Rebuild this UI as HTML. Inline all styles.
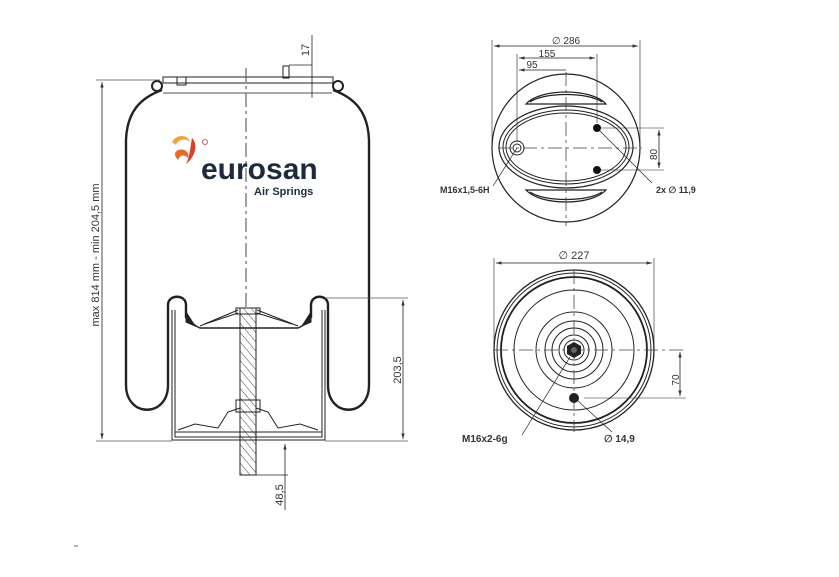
<!DOCTYPE html>
<html><head><meta charset="utf-8"><style>
html,body{margin:0;padding:0;background:#fff;}
svg{display:block;}
text{font-family:"Liberation Sans","DejaVu Sans",sans-serif;fill:#333;}
</style></head><body>
<svg width="839" height="577" viewBox="0 0 839 577" xmlns="http://www.w3.org/2000/svg">
<defs>
<marker id="a" viewBox="0 0 10 10" refX="10" refY="5" markerWidth="7" markerHeight="7" orient="auto-start-reverse"><path d="M0,2 L10,5 L0,8 z" fill="#333"/></marker>
<pattern id="h" width="6" height="6" patternUnits="userSpaceOnUse" patternTransform="rotate(-40)"><line x1="0" y1="0" x2="0" y2="6" stroke="#444" stroke-width="1"/></pattern>
</defs>
<g fill="none" stroke="#222" stroke-width="1">
<rect x="163" y="77" width="170" height="6" stroke-width="1"/>
<line x1="163" y1="93" x2="332" y2="93" stroke="#555"/>
<rect x="177" y="77" width="9" height="8" stroke-width="1"/>
<rect x="283" y="66" width="6" height="12"/>
<circle cx="157" cy="86" r="5" stroke-width="2"/>
<circle cx="338" cy="86" r="5" stroke-width="2"/>
<path d="M162,90 C140,98 127,112 126,140 L126,385 C126,418 168,418 168,385 L168,305 C168,294 186,294 186,305 L186,318" stroke-width="2.4"/>
<path d="M333,90 C355,98 368,112 369,140 L369,385 C369,418 328,418 328,385 L328,305 C328,294 311,294 311,305 L311,318" stroke-width="2.4"/>
<path d="M172,310 L172,440 L325,440 L325,310"/>
<path d="M175,310 L175,437 L322,437 L322,310"/>
<path d="M186,318 L196,326 L200,328 L298,328 L302,326 L311,318" stroke-width="1.5"/>
<path d="M186,312 L186,322 L195,326 Z M311,312 L311,322 L302,326 Z" fill="#222"/>
<path d="M200,326 L238,310 M257,310 L298,326"/>
<path d="M205,324 L238,313 M257,313 L292,324"/>
<path d="M178,430 L195,424 L218,428 L228,412 L240,408 M256,408 L268,412 L278,428 L300,424 L318,430"/>
<line x1="175" y1="432" x2="322" y2="432"/>
<rect x="236" y="308" width="24" height="6"/>
<rect x="240" y="308" width="16" height="167" fill="url(#h)"/>
<rect x="236" y="400" width="24" height="12"/>
<line x1="246" y1="68" x2="246" y2="308" stroke-dasharray="14,4,3,4" stroke="#444"/>
<line x1="96" y1="80" x2="160" y2="80" stroke="#555" stroke-width="0.8"/>
<line x1="96" y1="441" x2="172" y2="441" stroke="#555" stroke-width="0.8"/>
<line x1="102" y1="82" x2="102" y2="439" stroke-width="0.8" marker-start="url(#a)" marker-end="url(#a)"/>
<line x1="325" y1="298" x2="408" y2="298" stroke="#555" stroke-width="0.8"/>
<line x1="325" y1="441" x2="408" y2="441" stroke="#555" stroke-width="0.8"/>
<line x1="403" y1="300" x2="403" y2="439" stroke-width="0.8" marker-start="url(#a)" marker-end="url(#a)"/>
<line x1="312" y1="35" x2="312" y2="98" stroke-width="0.8"/>
<line x1="289" y1="65" x2="312" y2="65" stroke-width="0.8"/>
<line x1="256" y1="475" x2="288" y2="475" stroke-width="0.8"/>
<line x1="285" y1="444" x2="285" y2="510" stroke-width="0.8" marker-start="url(#a)"/>
</g>
<text transform="translate(99,255) rotate(-90)" font-size="11" text-anchor="middle" fill="#555">max 814 mm - min 204,5 mm</text>
<text transform="translate(401,370) rotate(-90)" font-size="11" text-anchor="middle" fill="#555">203,5</text>
<text transform="translate(309,50) rotate(-90)" font-size="11" text-anchor="middle" fill="#555">17</text>
<text transform="translate(283,495) rotate(-90)" font-size="11" text-anchor="middle" fill="#555">48,5</text>
<g>
<path d="M172,142 C176,134 188,134 190,142 C186,138 178,139 176,145 Z" fill="#f2a33a"/>
<path d="M178,150 C184,148 190,152 188,158 C184,154 180,155 178,160 C174,156 174,152 178,150 Z" fill="#e56b2b"/>
<path d="M192,138 C198,144 196,156 186,164 C190,156 190,148 192,138 Z" fill="#d8432a"/>
<circle cx="205" cy="142" r="2.5" fill="none" stroke="#c33" stroke-width="0.8"/>
</g>
<text x="201" y="179" font-size="30" font-weight="bold" style="fill:#1f2b3d">eurosan</text>
<text x="254" y="195" font-size="11" font-weight="bold" style="fill:#1f2b3d">Air Springs</text>

<g fill="none" stroke="#222" stroke-width="1">
<circle cx="566" cy="148" r="74" stroke-width="1.2"/>
<ellipse cx="566" cy="147" rx="67" ry="41" stroke-width="1.2"/>
<ellipse cx="566" cy="147" rx="63" ry="37"/>
<ellipse cx="566" cy="147" rx="60" ry="34"/>
<path d="M526,104 C540,88 592,88 606,104 Z M530,102 C544,92 588,92 602,102" stroke-width="1.2"/>
<path d="M526,190 C540,206 592,206 606,190 Z M530,192 C544,202 588,202 602,192" stroke-width="1.2"/>
<circle cx="517" cy="148" r="7"/><circle cx="517" cy="148" r="4"/>
<line x1="566" y1="72" x2="566" y2="226" stroke-dasharray="14,4,3,4" stroke="#444" stroke-width="0.8"/>
<line x1="498" y1="148" x2="642" y2="148" stroke-dasharray="14,4,3,4" stroke="#444" stroke-width="0.8"/>
<line x1="492" y1="40" x2="492" y2="148" stroke-width="0.6"/>
<line x1="640" y1="40" x2="640" y2="148" stroke-width="0.6"/>
<line x1="494" y1="46" x2="638" y2="46" stroke-width="0.8" marker-start="url(#a)" marker-end="url(#a)"/>
<line x1="517" y1="54" x2="517" y2="142" stroke-width="0.6"/>
<line x1="597" y1="54" x2="597" y2="123" stroke-width="0.6"/>
<line x1="519" y1="58" x2="595" y2="58" stroke-width="0.8" marker-start="url(#a)" marker-end="url(#a)"/>
<line x1="519" y1="70" x2="566" y2="70" stroke-width="0.8" marker-start="url(#a)"/>
<line x1="600" y1="128" x2="664" y2="128" stroke-width="0.6"/>
<line x1="600" y1="170" x2="664" y2="170" stroke-width="0.6"/>
<line x1="659" y1="130" x2="659" y2="168" stroke-width="0.8" marker-start="url(#a)" marker-end="url(#a)"/>
<line x1="597" y1="128" x2="652" y2="183" stroke-width="0.7"/>
<line x1="517" y1="148" x2="493" y2="186" stroke-width="0.7"/>
</g>
<circle cx="597" cy="128" r="4" fill="#111"/><circle cx="597" cy="170" r="4" fill="#111"/>
<text x="566" y="44" font-size="10" text-anchor="middle" fill="#555">∅ 286</text>
<text x="547" y="57" font-size="10" text-anchor="middle" fill="#555">155</text>
<text x="532" y="68" font-size="10" text-anchor="middle" fill="#555">95</text>
<text transform="translate(657,160) rotate(-90)" font-size="10" fill="#555">80</text>
<text x="440" y="193" font-size="9" font-weight="bold">M16x1,5-6H</text>
<text x="656" y="193" font-size="9" font-weight="bold">2x ∅ 11,9</text>

<g fill="none" stroke="#222" stroke-width="1">
<circle cx="574" cy="350" r="80" stroke-width="1.3"/>
<circle cx="574" cy="350" r="77"/>
<circle cx="574" cy="350" r="73" stroke-width="1.8"/>
<circle cx="574" cy="350" r="60"/>
<circle cx="574" cy="350" r="38"/>
<circle cx="574" cy="350" r="29"/>
<circle cx="574" cy="350" r="22"/>
<circle cx="574" cy="350" r="15"/>
<circle cx="574" cy="350" r="10"/>
<line x1="574" y1="270" x2="574" y2="432" stroke-dasharray="14,4,3,4" stroke="#444" stroke-width="0.8"/>
<line x1="494" y1="350" x2="686" y2="350" stroke-dasharray="14,4,3,4" stroke="#444" stroke-width="0.8"/>
<line x1="494" y1="258" x2="494" y2="350" stroke-width="0.6"/>
<line x1="654" y1="258" x2="654" y2="350" stroke-width="0.6"/>
<line x1="496" y1="263" x2="652" y2="263" stroke-width="0.8" marker-start="url(#a)" marker-end="url(#a)"/>
<line x1="584" y1="398" x2="686" y2="398" stroke-width="0.6"/>
<line x1="680" y1="352" x2="680" y2="396" stroke-width="0.8" marker-start="url(#a)" marker-end="url(#a)"/>
<line x1="570" y1="357" x2="522" y2="435" stroke-width="0.7"/>
<line x1="578" y1="401" x2="612" y2="432" stroke-width="0.7"/>
</g>
<polygon points="574,342 581,346 581,354 574,358 567,354 567,346" fill="#222"/>
<circle cx="574" cy="350" r="3" fill="#666"/>
<circle cx="574" cy="398" r="5" fill="#222"/>
<text x="574" y="259" font-size="11" text-anchor="middle" fill="#555">∅ 227</text>
<text transform="translate(679,380) rotate(-90)" font-size="10" text-anchor="middle" fill="#555">70</text>
<text x="462" y="442" font-size="10" font-weight="bold">M16x2-6g</text>
<text x="604" y="442" font-size="10" font-weight="bold">∅ 14,9</text>
<line x1="74" y1="546" x2="78" y2="546" stroke="#666" stroke-width="1"/>
</svg>
</body></html>
